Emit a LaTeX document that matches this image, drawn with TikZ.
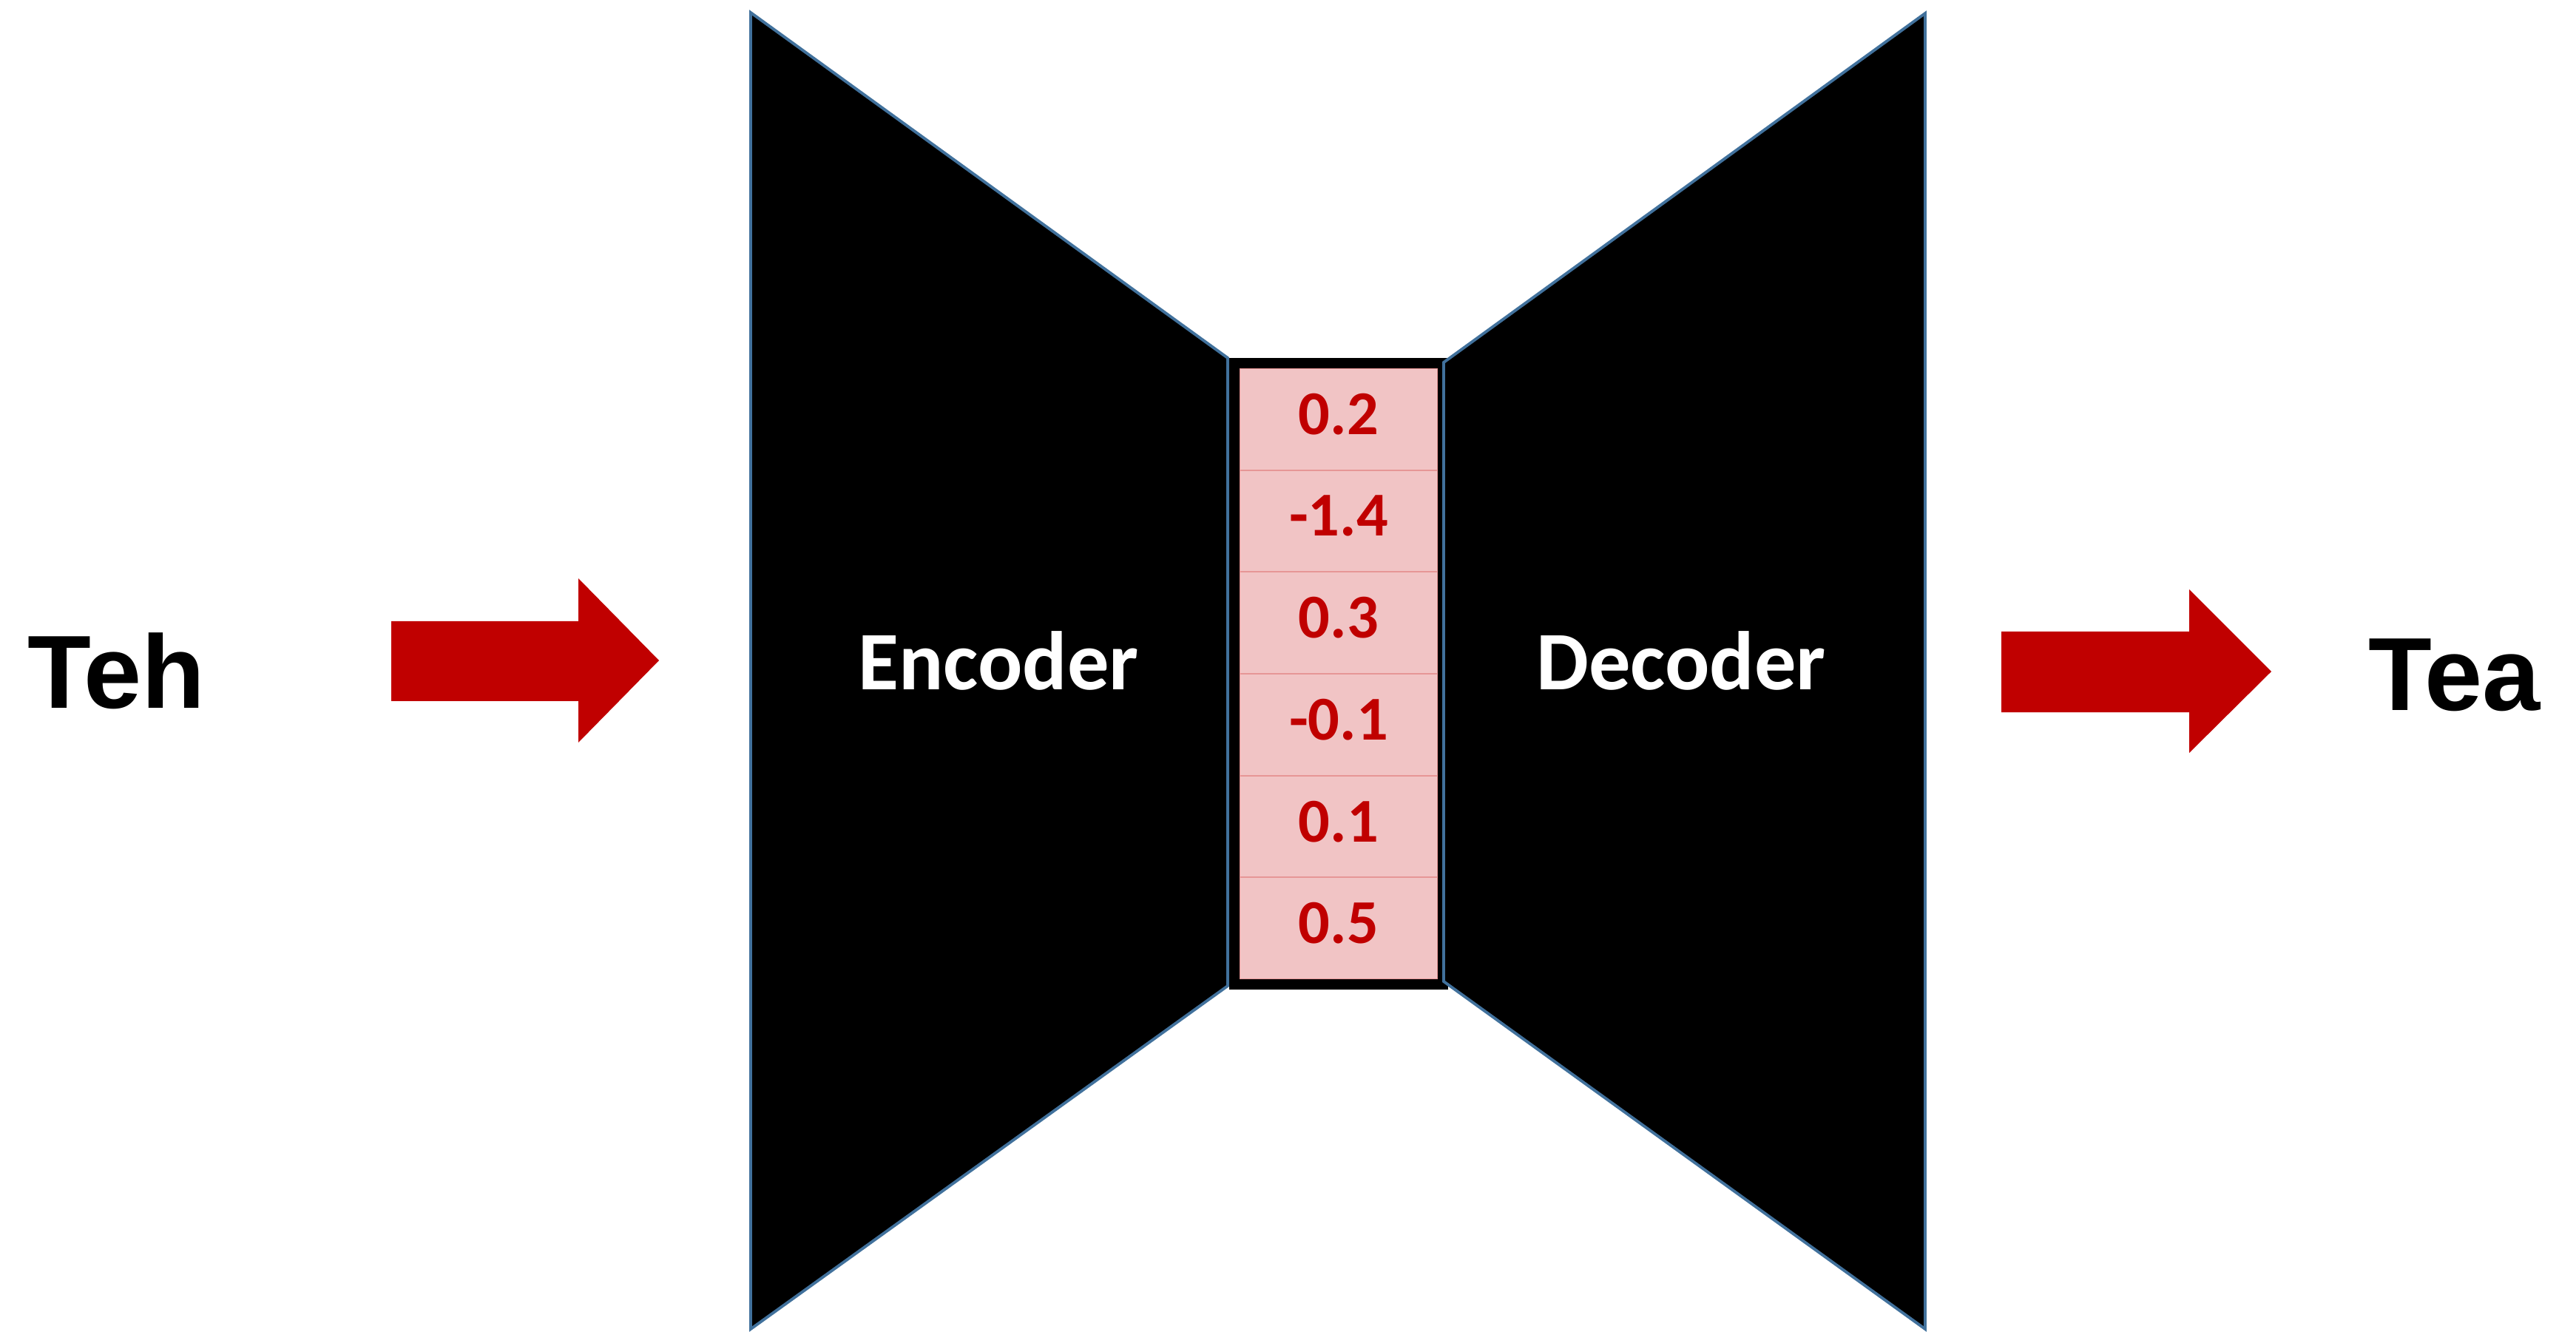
\documentclass[tikz,border=0pt]{standalone}
\usepackage{fontspec}
\setmainfont{Carlito}[Numbers=Lining]
\newfontfamily\wordfont{Liberation Sans}
\usepackage{xcolor}
\usetikzlibrary{positioning}
\definecolor{darkred}{RGB}{192,0,0}
\definecolor{cellpink}{RGB}{241,196,197}
\definecolor{cellline}{RGB}{230,150,150}
\definecolor{edgeblue}{RGB}{65,113,156}

\begin{document}
\begin{tikzpicture}[
    cell/.style={draw=cellline, line width=0.5pt, fill=cellpink, minimum width=2.68cm, minimum height=1.3767cm, inner sep=0pt, outer sep=0pt, text depth=0.14cm, text=darkred, font=\bfseries\fontsize{24}{28}\selectfont},
    block/.style={fill=black, draw=edgeblue, line width=1.1pt},
    blocklabel/.style={text=white, font=\bfseries\fontsize{32}{38}\selectfont, anchor=base, inner sep=0pt},
    word/.style={font=\wordfont\bfseries\fontsize{40}{46}\selectfont, anchor=base west, inner sep=0pt}
]
    \useasboundingbox (0,0) rectangle (34.83,18);

    % Encoder
    \draw[block] (10.15,17.83) -- (16.60,13.16) -- (16.60,4.67) -- (10.15,0.03) -- cycle;

    % Latent vector
    \node[cell] (z1) at (18.10,12.332) {0.2};
    \node[cell, below=0pt of z1] (z2) {-1.4};
    \node[cell, below=0pt of z2] (z3) {0.3};
    \node[cell, below=0pt of z3] (z4) {-0.1};
    \node[cell, below=0pt of z4] (z5) {0.1};
    \node[cell, below=0pt of z5] (z6) {0.5};
    \draw[line width=0.14cm] ([shift={(-0.07,0.07)}]z1.north west) rectangle ([shift={(0.07,-0.07)}]z6.south east);

    % Decoder
    \draw[block] (19.52,13.10) -- (26.03,17.82) -- (26.03,0.03) -- (19.52,4.73) -- cycle;

    \node[blocklabel] (enc) at (13.50,8.67) {Encoder};
    \node[blocklabel] (dec) at (22.73,8.67) {Decoder};

    % Input and output words
    \node[word] (input) at (0.37,8.43) {Teh};
    \node[word] (output) at (32.02,8.39) {Tea};

    % Block arrows
    \fill[darkred] (5.29,9.60) -- (7.82,9.60) -- (7.82,10.18) -- (8.91,9.07) -- (7.82,7.96) -- (7.82,8.52) -- (5.29,8.52) -- cycle;
    \fill[darkred] (27.06,9.46) -- (29.60,9.46) -- (29.60,10.03) -- (30.71,8.92) -- (29.60,7.82) -- (29.60,8.37) -- (27.06,8.37) -- cycle;
\end{tikzpicture}
\end{document}
